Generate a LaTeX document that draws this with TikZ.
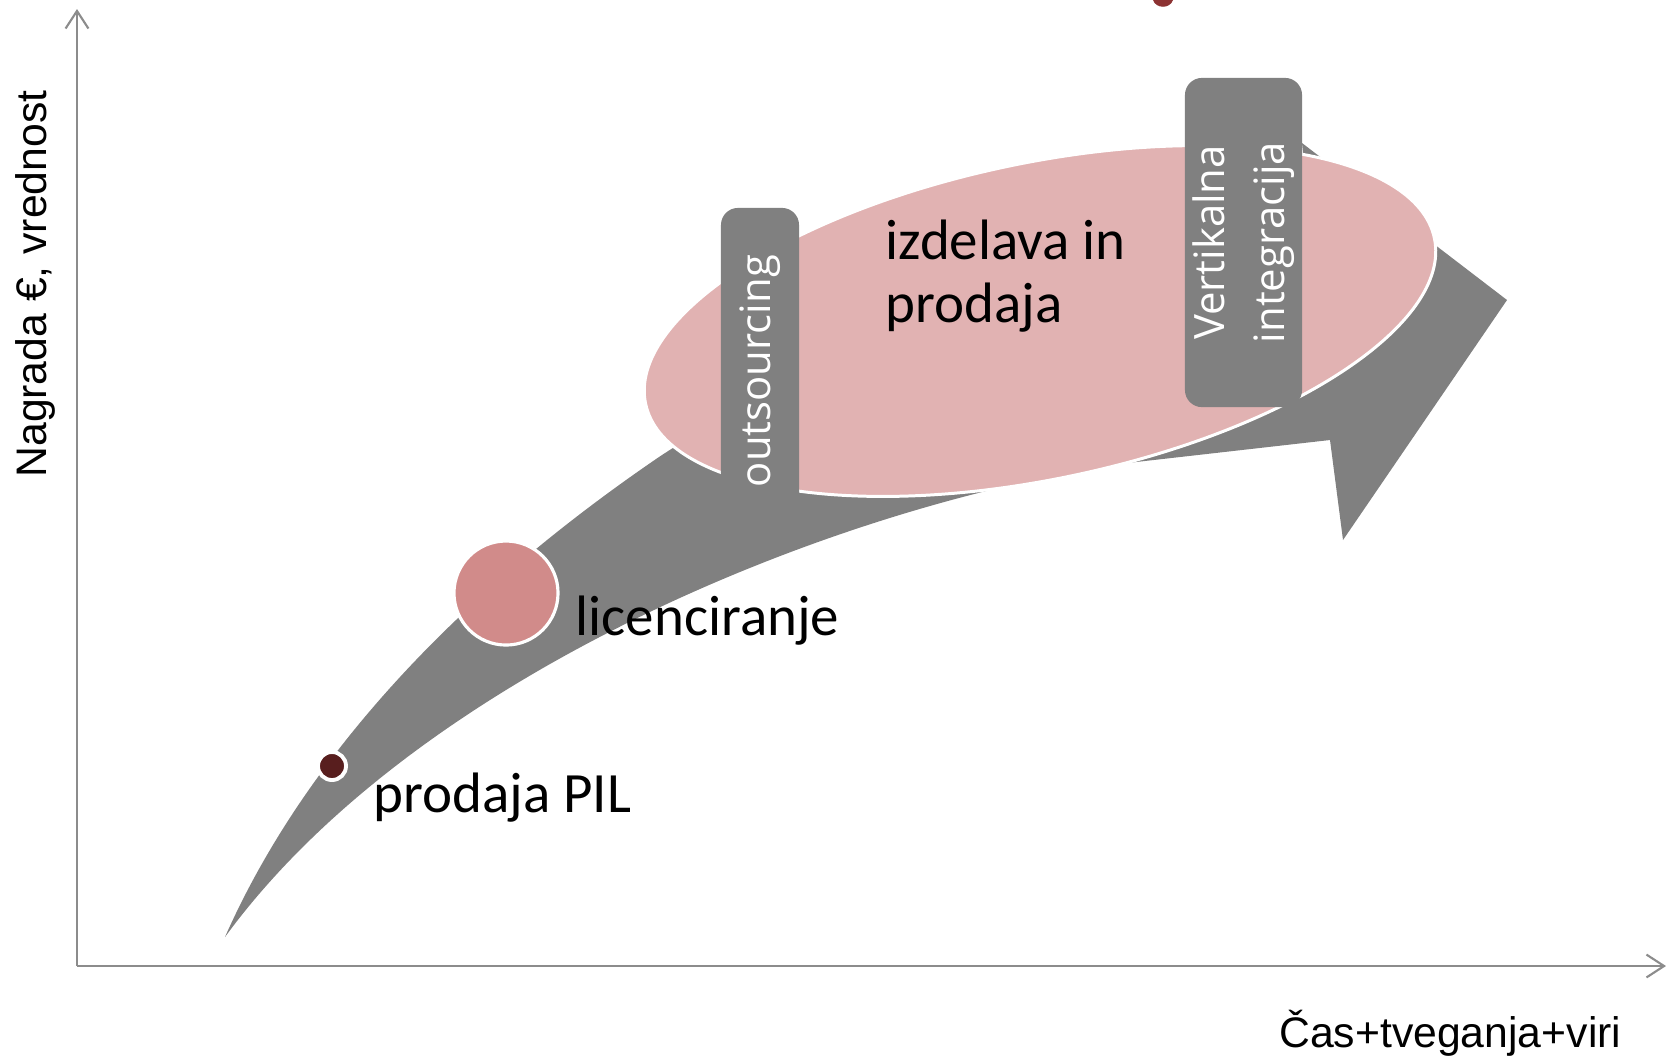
\documentclass[tikz,border=0pt]{standalone}
\usepackage{fontspec}
\setmainfont{Carlito}
\newfontfamily\axisfont{Liberation Sans}
\newfontfamily\boxfont{Open Sans}
\usetikzlibrary{arrows.meta}

\definecolor{arrowgray}{RGB}{128,128,128}
\definecolor{axisgray}{RGB}{140,140,140}
\definecolor{ovalpink}{RGB}{225,178,178}
\definecolor{licpink}{RGB}{209,139,138}
\definecolor{dotred}{RGB}{88,30,30}
\definecolor{titlered}{RGB}{140,50,50}

\begin{document}
\begin{tikzpicture}[x=0.01cm,y=-0.01cm,
    axis/.style={draw=axisgray, line width=0.6pt, -{Straight Barb[length=5pt,width=6.5pt]}},
    axislabel/.style={font=\axisfont\fontsize{12.15pt}{14pt}\selectfont, inner sep=0pt},
    stagelabel/.style={font=\fontsize{16.2pt}{17.9pt}\selectfont, inner sep=0pt},
    stagebox/.style={fill=arrowgray, rounded corners=0.17cm, rotate=90, text=white,
      font=\boxfont\fontsize{11.9pt}{17pt}\selectfont, align=center, inner sep=0pt},
    stagedot/.style={circle, draw=white, inner sep=0pt}]
  % Canvas (pixel units, y pointing down)
  \useasboundingbox (0,0) rectangle (1666,1056);

  % Bit of the cut-off title
  \fill[titlered] (1153,0) .. controls (1156,9) and (1170,9) .. (1173,0) -- cycle;

  % Drawing the axes
  \coordinate (origin) at (77,966);
  \coordinate (ytop) at (77,9);
  \coordinate (xend) at (1666,966);
  \draw[axis] (origin) -- (ytop);
  \draw[axis] (origin) -- (xend);
  \node[axislabel, rotate=90] (ylabel) at (35,284) {Nagrada €, vrednost};
  \node[axislabel, anchor=base east] (xlabel) at (1622,1047) {Čas+tveganja+viri};

  % The big curved arrow
  \fill[arrowgray] (225,937) .. controls (290,790) and (420,620) .. (659,457)
    .. controls (850,330) and (1100,290) .. (1316,280)
    -- (1302,143) -- (1507,300) -- (1343,540) -- (1330,440) -- (1136,462)
    .. controls (850,500) and (420,670) .. (225,937) -- cycle;

  % Oval for the last stage
  \filldraw[fill=ovalpink, draw=white, line width=0.85pt, rotate around={11.85:(1040,321)}]
    (1040,321) ellipse [x radius=403, y radius=158];

  % Vertical boxes
  \node[stagebox, minimum width=3.26cm, minimum height=0.78cm] (outsrc) at (760,371) {outsourcing};
  \node[stagebox, minimum width=3.29cm, minimum height=1.17cm] (vertint) at (1243.5,242.5) {Vertikalna\\integracija};

  % Stage markers
  \node[stagedot, fill=dotred, minimum size=0.28cm, line width=1.1pt] (pildot) at (332,766) {};
  \node[stagedot, fill=licpink, minimum size=1.04cm, line width=0.9pt] (licdot) at (506,593) {};

  % Stage labels
  \node[stagelabel, anchor=base west] (pil) at (373,812) {prodaja PIL};
  \node[stagelabel, anchor=base west] (lic) at (575,635) {licenciranje};
  \node[stagelabel, anchor=base west, align=left] (izd) at (885,322) {izdelava in\\prodaja};
\end{tikzpicture}
\end{document}
